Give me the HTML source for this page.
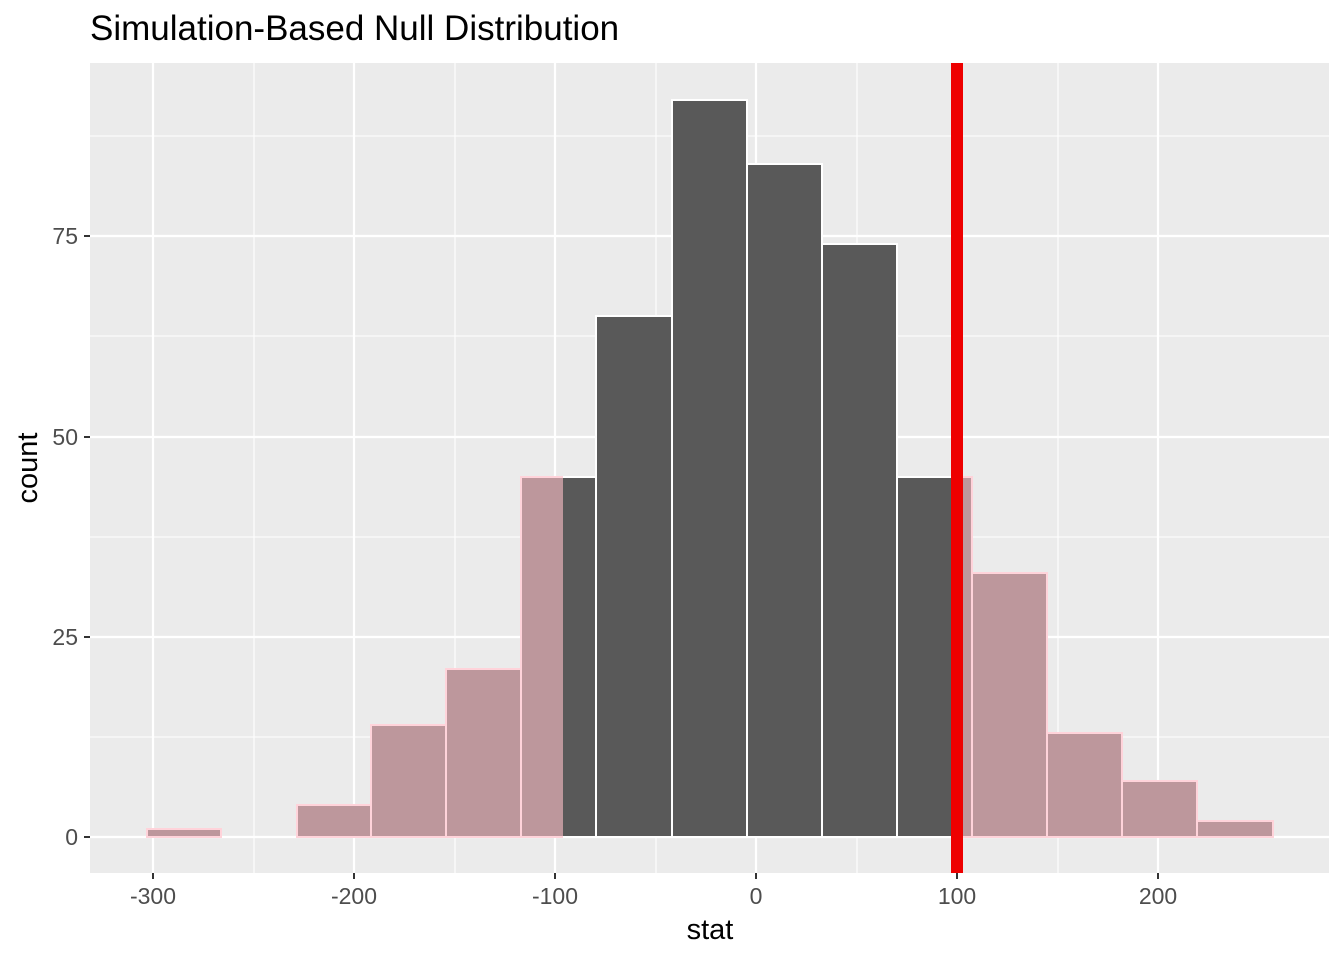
<!DOCTYPE html><html><head><style>body{margin:0;background:#fff}svg{display:block}text{font-family:"Liberation Sans",sans-serif}</style></head><body>
<svg width="1344" height="960" xmlns="http://www.w3.org/2000/svg">
<defs><clipPath id="out"><rect x="0" y="0" width="563" height="960"/><rect x="951" y="0" width="400" height="960"/></clipPath></defs>
<rect x="90" y="63" width="1239" height="810" fill="#EBEBEB"/>
<g stroke="#fff" stroke-width="1.1">
<line x1="254" x2="254" y1="63" y2="873"/><line x1="455" x2="455" y1="63" y2="873"/><line x1="656" x2="656" y1="63" y2="873"/><line x1="857" x2="857" y1="63" y2="873"/><line x1="1058" x2="1058" y1="63" y2="873"/>
<line x1="90" x2="1329" y1="737" y2="737"/><line x1="90" x2="1329" y1="537" y2="537"/><line x1="90" x2="1329" y1="336" y2="336"/><line x1="90" x2="1329" y1="136" y2="136"/>
</g>
<g stroke="#fff" stroke-width="2.2">
<line x1="153" x2="153" y1="63" y2="873"/><line x1="354" x2="354" y1="63" y2="873"/><line x1="555" x2="555" y1="63" y2="873"/><line x1="756" x2="756" y1="63" y2="873"/><line x1="957" x2="957" y1="63" y2="873"/><line x1="1158" x2="1158" y1="63" y2="873"/>
<line x1="90" x2="1329" y1="837" y2="837"/><line x1="90" x2="1329" y1="637" y2="637"/><line x1="90" x2="1329" y1="437" y2="437"/><line x1="90" x2="1329" y1="236" y2="236"/>
</g>
<g fill="#595959" stroke="#fff" stroke-width="2">
<rect x="147" y="829" width="74" height="8"/>
<rect x="297" y="805" width="74" height="32"/>
<rect x="371" y="725" width="75" height="112"/>
<rect x="446" y="669" width="75" height="168"/>
<rect x="521" y="477" width="75" height="360"/>
<rect x="596" y="316" width="76" height="521"/>
<rect x="672" y="100" width="75" height="737"/>
<rect x="747" y="164" width="75" height="673"/>
<rect x="822" y="244" width="75" height="593"/>
<rect x="897" y="477" width="75" height="360"/>
<rect x="972" y="573" width="75" height="264"/>
<rect x="1047" y="733" width="75" height="104"/>
<rect x="1122" y="781" width="75" height="56"/>
<rect x="1197" y="821" width="76" height="16"/>
</g>
<g fill="#BD979C" stroke="#FFD3DA" stroke-width="2" clip-path="url(#out)">
<rect x="147" y="829" width="74" height="8"/>
<rect x="297" y="805" width="74" height="32"/>
<rect x="371" y="725" width="75" height="112"/>
<rect x="446" y="669" width="75" height="168"/>
<rect x="521" y="477" width="75" height="360"/>
<rect x="897" y="477" width="75" height="360"/>
<rect x="972" y="573" width="75" height="264"/>
<rect x="1047" y="733" width="75" height="104"/>
<rect x="1122" y="781" width="75" height="56"/>
<rect x="1197" y="821" width="76" height="16"/>
</g>
<rect x="951" y="63" width="12" height="810" fill="#EE0000"/>
<g stroke="#333" stroke-width="2">
<line x1="153" x2="153" y1="873" y2="879"/><line x1="354" x2="354" y1="873" y2="879"/><line x1="555" x2="555" y1="873" y2="879"/><line x1="756" x2="756" y1="873" y2="879"/><line x1="957" x2="957" y1="873" y2="879"/><line x1="1158" x2="1158" y1="873" y2="879"/>
<line x1="84" x2="90" y1="837" y2="837"/><line x1="84" x2="90" y1="637" y2="637"/><line x1="84" x2="90" y1="437" y2="437"/><line x1="84" x2="90" y1="236" y2="236"/>
</g>
<g fill="#4D4D4D" font-size="23" text-anchor="middle">
<text x="153" y="904">-300</text><text x="354" y="904">-200</text><text x="555" y="904">-100</text><text x="756" y="904">0</text><text x="957" y="904">100</text><text x="1158" y="904">200</text>
</g>
<g fill="#4D4D4D" font-size="23" text-anchor="end">
<text x="78" y="845">0</text><text x="78" y="645">25</text><text x="78" y="445">50</text><text x="78" y="244">75</text>
</g>
<text x="710" y="939" font-size="29" text-anchor="middle">stat</text>
<text transform="translate(37,468) rotate(-90)" font-size="29" text-anchor="middle">count</text>
<text x="90" y="40" font-size="35">Simulation-Based Null Distribution</text>
</svg>
</body></html>
